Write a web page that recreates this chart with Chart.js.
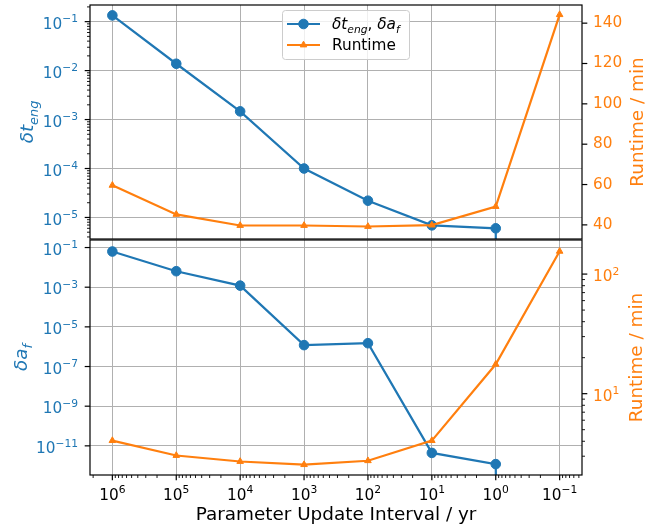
<!DOCTYPE html>
<html>
<head>
<meta charset="utf-8">
<script src="https://cdn.jsdelivr.net/npm/chart.js@4.4.0/dist/chart.umd.min.js"></script>
<style>
  body { margin: 0; background: #fff; }
  #wrap { position: relative; width: 666px; height: 532px; }
  #topChart { position: absolute; left: 0; top: 0; }
  #bottomChart { position: absolute; left: 0; top: 239px; }
</style>
</head>
<body>
<div id="wrap">
  <canvas id="topChart" width="666" height="240"></canvas>
  <canvas id="bottomChart" width="666" height="293"></canvas>
</div>
<script>
// Parameter update interval (yr) and the measured values
const intervals = [1e6, 1e5, 1e4, 1e3, 1e2, 1e1, 1e0, 1e-1];
const dtEng = [0.134, 0.0138, 1.47e-3, 1.0e-4, 2.2e-5, 6.9e-6, 6.0e-6, 0];
const runtimeTop = [59.6, 45.2, 39.7, 39.7, 39.2, 39.9, 49.1, 144.2];
const daF = [0.063, 6.4e-3, 1.2e-3, 1.2e-6, 1.5e-6, 4.4e-12, 1.2e-12, 0];
const runtimeBottom = [4.05, 3.04, 2.71, 2.55, 2.75, 4.05, 17.6, 155];

// labelled tick positions (decades for the log axes)
const xDecades = [-1, 0, 1, 2, 3, 4, 5, 6];
const dtEngDecades = [-5, -4, -3, -2, -1];
const daFDecades = [-11, -9, -7, -5, -3, -1];
const runtimeTopTicks = [40, 60, 80, 100, 120, 140];
const runtimeBottomDecades = [1, 2];

const BLUE = '#1f77b4';
const ORANGE = '#ff7f0e';
const TICK_SIZE = 15.3;
const LABEL_SIZE = 18.4;
Chart.defaults.font.family = '"DejaVu Sans"';

// log(0) is drawn by matplotlib as a drop off the bottom of the axes
const logSafe = v => v === 0 ? 1e-300 : v;
const points = (ys, f) => intervals.map((x, i) => ({ x, y: f ? f(ys[i]) : ys[i] }));

function logTicks(majors, minors) {
  return scale => {
    const ticks = [];
    const lo = Math.floor(Math.log10(scale.min)), hi = Math.ceil(Math.log10(scale.max));
    for (let d = lo; d <= hi; d++) {
      const base = Math.pow(10, d);
      if (majors.includes(d)) ticks.push({ value: base, major: true });
      if (minors) for (let k = 2; k <= 9; k++) ticks.push({ value: k * base, major: false });
    }
    scale.ticks = ticks.filter(t => t.value >= scale.min && t.value <= scale.max);
  };
}

function fixSize(w, h) {
  return s => {
    if (w !== null) s.width = w;
    if (h !== null) s.height = h;
    s.paddingTop = s.paddingBottom = s.paddingLeft = s.paddingRight = 0;
  };
}

const gridColor = c => c.tick && c.tick.major ? '#b0b0b0' : 'rgba(0,0,0,0)';

function fontOf(p, size) {
  return (p.it ? 'italic ' : '') + ((p.sub || p.sup) ? size * 0.7 : size) + 'px "DejaVu Sans"';
}
function richWidth(ctx, parts, size) {
  let w = 0;
  parts.forEach(p => { ctx.font = fontOf(p, size); w += ctx.measureText(p.t).width; });
  return w;
}
function drawRich(ctx, parts, size, x, y, align) {
  const w = richWidth(ctx, parts, size);
  let cx = align === 'center' ? x - w / 2 : align === 'right' ? x - w : x;
  ctx.textAlign = 'left';
  ctx.textBaseline = 'alphabetic';
  parts.forEach(p => {
    ctx.font = fontOf(p, size);
    const dy = p.sub ? size * 0.25 : p.sup ? -size * 0.42 : 0;
    ctx.fillText(p.t, cx, y + dy);
    cx += ctx.measureText(p.t).width;
  });
}
const powerLabel = v => [{ t: '10' }, { t: String(Math.round(Math.log10(v))).replace('-', '−'), sup: 1 }];

const dtLabel = [{ t: 'δt', it: 1 }, { t: 'eng', it: 1, sub: 1 }];
const daLabel = [{ t: 'δa', it: 1 }, { t: 'f', it: 1, sub: 1 }];
const runtimeLabel = [{ t: 'Runtime / min' }];

// ticks, power-of-ten labels, frame, axis titles, legend
const panelPlugin = {
  id: 'panel',
  afterDraw(chart, args, opts) {
    const ctx = chart.ctx;
    const a = chart.chartArea;
    ctx.save();
    Object.values(chart.scales).forEach(s => {
      if (!s.options.tickMarks) return;
      s.ticks.forEach(t => {
        const len = t.major ? 5.3 : 3;
        const p = s.getPixelForValue(t.value);
        ctx.strokeStyle = '#000';
        ctx.lineWidth = t.major ? 1.2 : 0.9;
        ctx.beginPath();
        if (s.isHorizontal()) { ctx.moveTo(p, s.top); ctx.lineTo(p, s.top + len); }
        else if (s.position === 'left') { ctx.moveTo(s.right, p); ctx.lineTo(s.right - len, p); }
        else { ctx.moveTo(s.left, p); ctx.lineTo(s.left + len, p); }
        ctx.stroke();
        if (!t.major || !s.options.powerLabels) return;
        ctx.fillStyle = s.options.labelColor;
        const parts = powerLabel(t.value);
        if (s.isHorizontal()) drawRich(ctx, parts, TICK_SIZE, p, s.top + 24.5, 'center');
        else if (s.position === 'left') drawRich(ctx, parts, TICK_SIZE, s.right - 12, p + 7.1, 'right');
        else drawRich(ctx, parts, TICK_SIZE, s.left + 11, p + 7.1, 'left');
      });
    });
    ctx.strokeStyle = '#000';
    ctx.lineWidth = 1.2;
    ctx.strokeRect(a.left, a.top, a.right - a.left, a.bottom - a.top);

    const cy = (a.top + a.bottom) / 2;
    (opts.titles || []).forEach(tt => {
      ctx.save();
      ctx.fillStyle = tt.color;
      ctx.translate(tt.x, cy);
      ctx.rotate(-Math.PI / 2);
      drawRich(ctx, tt.parts, LABEL_SIZE, 0, 0, 'center');
      ctx.restore();
    });

    const lg = opts.legend;
    if (lg) {
      ctx.fillStyle = 'rgba(255,255,255,0.8)';
      ctx.strokeStyle = '#cccccc';
      ctx.lineWidth = 1;
      ctx.beginPath();
      ctx.roundRect(lg.x + 0.5, lg.y + 0.5, lg.w, lg.h, 3);
      ctx.fill();
      ctx.stroke();
      lg.items.forEach((it, i) => {
        const y = lg.y + 14 + i * 21;
        const x0 = lg.x + 5, x1 = lg.x + 38;
        ctx.strokeStyle = it.color;
        ctx.fillStyle = it.color;
        ctx.lineWidth = 2.2;
        ctx.beginPath(); ctx.moveTo(x0, y); ctx.lineTo(x1, y); ctx.stroke();
        ctx.lineWidth = 1;
        Chart.helpers.drawPoint(ctx, { pointStyle: it.marker, radius: it.radius, borderWidth: 1, rotation: 0 }, (x0 + x1) / 2, y);
        ctx.fillStyle = '#000';
        drawRich(ctx, it.parts, TICK_SIZE, lg.x + 50, y + 5.4, 'left');
      });
    }
    ctx.restore();
  }
};

const common = {
  responsive: false,
  animation: false,
  events: [],
  plugins: { legend: { display: false }, tooltip: { enabled: false } }
};

function lineSet(data, axis, color, marker, radius, order) {
  return {
    data, yAxisID: axis, borderColor: color, backgroundColor: color,
    pointBackgroundColor: color, pointBorderColor: color, pointBorderWidth: 1,
    pointStyle: marker, pointRadius: radius, borderWidth: 2.2, tension: 0, clip: 0, order
  };
}

const xBase = {
  type: 'logarithmic', reverse: true, bounds: 'data',
  min: Math.pow(10, -1.35), max: Math.pow(10, 6.35),
  afterBuildTicks: logTicks(xDecades, true),
  ticks: { display: false },
  grid: { color: gridColor, lineWidth: 1, drawTicks: false },
  border: { display: false }
};

function logAxis(position, lo, hi, majors, minors, color, width) {
  return {
    type: 'logarithmic', position, bounds: 'data',
    min: Math.pow(10, lo), max: Math.pow(10, hi),
    afterBuildTicks: logTicks(majors, minors),
    afterFit: fixSize(width, null), tickMarks: true, powerLabels: true, labelColor: color,
    ticks: { display: false },
    grid: position === 'left' ? { color: gridColor, lineWidth: 1, drawTicks: false } : { display: false, drawTicks: false },
    border: { display: false }
  };
}

new Chart(document.getElementById('topChart'), {
  type: 'line',
  data: {
    datasets: [
      lineSet(points(runtimeTop), 'yr', ORANGE, 'triangle', 3.8, 0),
      lineSet(points(dtEng, logSafe), 'yl', BLUE, 'circle', 4.8, 1)
    ]
  },
  options: Object.assign({}, common, {
    layout: { autoPadding: false, padding: { top: 5, bottom: 1, left: 0, right: 0 } },
    plugins: Object.assign({}, common.plugins, {
      panel: {
        titles: [
          { parts: dtLabel, x: 33, color: BLUE },
          { parts: runtimeLabel, x: 643, color: ORANGE }
        ],
        legend: {
          x: 282, y: 10, w: 127, h: 49,
          items: [
            { parts: dtLabel.concat([{ t: ', ' }], daLabel), color: BLUE, marker: 'circle', radius: 4.8 },
            { parts: [{ t: 'Runtime' }], color: ORANGE, marker: 'triangle', radius: 3.8 }
          ]
        }
      }
    }),
    scales: {
      x: Object.assign({}, xBase, { afterFit: fixSize(null, 0) }),
      yl: logAxis('left', -5.44, -0.66, dtEngDecades, true, BLUE, 90),
      yr: {
        type: 'linear', position: 'right', bounds: 'data',
        min: 33, max: 149,
        afterBuildTicks: s => {
          const t = [];
          for (let v = 30; v <= 150; v += 10) if (v >= s.min && v <= s.max) t.push({ value: v, major: runtimeTopTicks.includes(v) });
          s.ticks = t;
        },
        afterFit: fixSize(84, null), tickMarks: true,
        ticks: { color: ORANGE, font: { size: TICK_SIZE }, padding: 11, autoSkip: false, callback: (v, i, t) => t[i].major ? String(v) : null },
        grid: { display: false, drawTicks: false },
        border: { display: false }
      }
    }
  }),
  plugins: [panelPlugin]
});

new Chart(document.getElementById('bottomChart'), {
  type: 'line',
  data: {
    datasets: [
      lineSet(points(runtimeBottom), 'yr', ORANGE, 'triangle', 3.8, 0),
      lineSet(points(daF, logSafe), 'yl', BLUE, 'circle', 4.8, 1)
    ]
  },
  options: Object.assign({}, common, {
    layout: { autoPadding: false, padding: { top: 1, bottom: 0, left: 0, right: 0 } },
    plugins: Object.assign({}, common.plugins, {
      panel: {
        titles: [
          { parts: daLabel, x: 27, color: BLUE },
          { parts: runtimeLabel, x: 642, color: ORANGE }
        ]
      }
    }),
    scales: {
      x: Object.assign({}, xBase, {
        afterFit: fixSize(null, 57), tickMarks: true, powerLabels: true, labelColor: '#000',
        title: { display: true, text: 'Parameter Update Interval / yr', color: '#000', font: { size: LABEL_SIZE }, padding: { top: 0, bottom: 6 } }
      }),
      yl: logAxis('left', -12.47, -0.62, daFDecades, false, BLUE, 90),
      yr: logAxis('right', 0.32, 2.285, runtimeBottomDecades, true, ORANGE, 84)
    }
  }),
  plugins: [panelPlugin]
});
</script>
</body>
</html>
